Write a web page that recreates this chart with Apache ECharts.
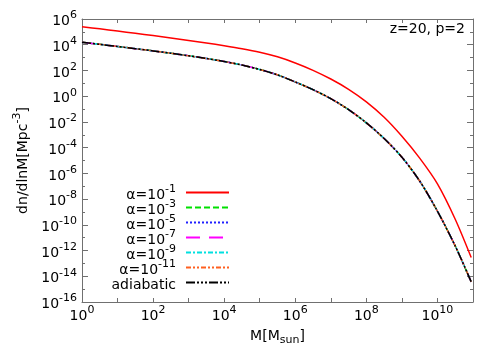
<!DOCTYPE html>
<html lang="en">
<head>
<meta charset="UTF-8">
<title>dn/dlnM</title>
<style>
    html, body { margin: 0; padding: 0; background: #fff; }
    #chart { width: 500px; height: 350px; }
</style>
</head>
<body>
<div id="chart"></div>
<script src="https://cdn.jsdelivr.net/npm/echarts@6/dist/echarts.min.js"></script>
<script>
    // log10(M / M_sun)
    var logM = [0, 0.5, 1, 1.5, 2, 2.5, 3, 3.5, 4, 4.5, 5, 5.5, 6, 6.5, 7, 7.5, 8, 8.5, 9, 9.5, 10, 10.5, 10.95];
    // log10(dn/dlnM), alpha = 1e-1
    var logN_a1 = [5.40, 5.235, 5.065, 4.89, 4.71, 4.525, 4.335, 4.135, 3.925, 3.695, 3.42, 3.06, 2.585, 2.01, 1.335, 0.535, -0.44, -1.64, -3.115, -4.815, -6.815, -9.565, -12.545];
    // the other alphas and the adiabatic case sit on top of each other
    var logN_rest = [4.19, 4.03, 3.865, 3.695, 3.52, 3.335, 3.14, 2.93, 2.695, 2.42, 2.08, 1.655, 1.105, 0.505, -0.195, -1.045, -2.07, -3.295, -4.745, -6.595, -8.945, -11.645, -14.435];

    var names = ['α=10^-1', 'α=10^-3', 'α=10^-5', 'α=10^-7', 'α=10^-9', 'α=10^-11', 'adiabatic'];
    var colors = ['#ff0000', '#00e000', '#2020ff', '#ff00ff', '#00e0e0', '#ff6020', '#000000'];
    var dashes = ['solid', [6, 3], [2, 2], [14, 9], [5, 2, 2, 2], [5, 2, 2, 2, 2, 2], [9, 2, 2, 2, 2, 2, 2, 2]];
    var curves = [logN_a1, logN_rest, logN_rest, logN_rest, logN_rest, logN_rest, logN_rest];

    var FONT = 'DejaVu Sans';
    var AXIS_COLOR = '#707070';

    var supRich = {
        b: {fontSize: 14, lineHeight: 15, padding: [5, 0, 0, 0], color: '#000', fontFamily: FONT},
        s: {fontSize: 11, lineHeight: 11, padding: [0, 0, 7, 0], color: '#000', fontFamily: FONT}
    };

    var pow10 = function (v) {
        return '{b|10}{s|' + v + '}';
    };

    var legendLabel = function (name) {
        var p = name.split('^');
        if (p.length === 1) {
            return '{b|' + name + '}';
        }
        return '{b|' + p[0] + '}{s|' + p[1] + '}';
    };

    var series = [];
    for (var i = 0; i < names.length; i++) {
        var pts = [];
        for (var j = 0; j < logM.length; j++) {
            pts.push([logM[j], curves[i][j]]);
        }
        series.push({
            name: names[i],
            type: 'line',
            data: pts,
            symbol: 'none',
            smooth: 0.3,
            silent: true,
            lineStyle: {color: colors[i], width: 1.5, type: dashes[i]},
            itemStyle: {color: colors[i]},
            z: 2 + i
        });
    }

    var xCommon = {
        type: 'value', min: 0, max: 11, interval: 1,
        axisLine: {show: true, onZero: false, lineStyle: {color: AXIS_COLOR, width: 1}},
        axisTick: {show: true, inside: true, length: 4, lineStyle: {color: AXIS_COLOR}},
        splitLine: {show: false}
    };
    var yCommon = {
        type: 'value', min: -16, max: 6, interval: 2,
        axisLine: {show: true, onZero: false, lineStyle: {color: AXIS_COLOR, width: 1}},
        axisTick: {show: true, inside: true, length: 6, lineStyle: {color: AXIS_COLOR}},
        minorTick: {show: true, splitNumber: 2, length: 3, lineStyle: {color: AXIS_COLOR}},
        splitLine: {show: false},
        minorSplitLine: {show: false}
    };

    var option = {
        animation: false,
        textStyle: {fontFamily: FONT},
        title: {
            text: 'z=20, p=2',
            right: 35,
            top: 22,
            padding: 0,
            textStyle: {fontSize: 14, fontWeight: 'normal', color: '#000', fontFamily: FONT}
        },
        grid: {left: 82, right: 27, top: 19, bottom: 48, containLabel: false, outerBoundsMode: 'none'},
        legend: {
            data: names,
            orient: 'vertical',
            right: 270,
            top: 183,
            align: 'right',
            padding: 0,
            itemGap: -4,
            itemWidth: 43,
            itemHeight: 10,
            selectedMode: false,
            formatter: legendLabel,
            itemStyle: {opacity: 0},
            textStyle: {padding: [0, 5, 0, 0], rich: supRich}
        },
        xAxis: [
            echarts.util.merge({
                position: 'bottom',
                name: '{b|M[M}{u|sun}{b|]}',
                nameLocation: 'middle',
                nameGap: 29,
                nameTextStyle: {
                    rich: {
                        b: {fontSize: 14, lineHeight: 15, padding: [0, 0, 5, 0], color: '#000', fontFamily: FONT},
                        u: {fontSize: 11, lineHeight: 11, padding: [4, 0, 0, 0], color: '#000', fontFamily: FONT}
                    }
                },
                axisLabel: {
                    margin: 4,
                    formatter: function (v) { return v % 2 === 0 ? pow10(v) : ''; },
                    rich: supRich
                }
            }, xCommon, true),
            echarts.util.merge({position: 'top', axisLabel: {show: false}}, xCommon, true)
        ],
        yAxis: [
            echarts.util.merge({
                position: 'left',
                name: '{b|dn/dlnM[Mpc}{s|-3}{b|]}',
                nameLocation: 'middle',
                nameRotate: 90,
                nameGap: 53,
                nameTextStyle: {rich: supRich},
                axisLabel: {
                    margin: 5,
                    formatter: function (v) { return pow10(v); },
                    rich: supRich
                }
            }, yCommon, true),
            echarts.util.merge({position: 'right', axisLabel: {show: false}}, yCommon, true)
        ],
        series: series
    };

    var chart = echarts.init(document.getElementById('chart'));
    chart.setOption(option);
</script>
</body>
</html>
